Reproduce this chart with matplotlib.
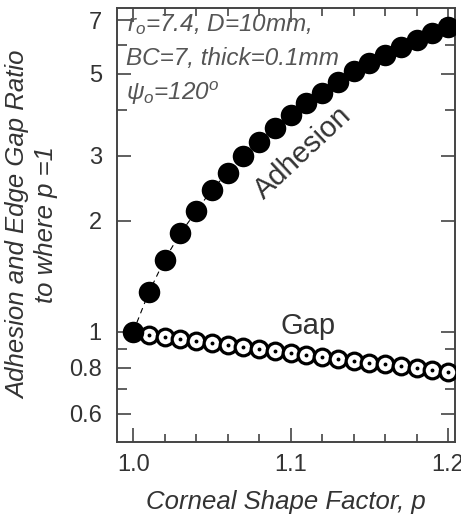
import matplotlib
matplotlib.use("Agg")
import matplotlib.pyplot as plt
from matplotlib.ticker import FixedLocator, NullFormatter

plt.rcParams['font.family'] = ['Liberation Sans', 'DejaVu Sans']
plt.rcParams['mathtext.fontset'] = 'custom'
plt.rcParams['mathtext.it'] = 'Liberation Sans:italic'
plt.rcParams['mathtext.rm'] = 'Liberation Sans:italic'
plt.rcParams['mathtext.default'] = 'it'

p = [1.00, 1.01, 1.02, 1.03, 1.04, 1.05, 1.06, 1.07, 1.08, 1.09, 1.10,
     1.11, 1.12, 1.13, 1.14, 1.15, 1.16, 1.17, 1.18, 1.19, 1.20]
adhesion = [1.00, 1.28, 1.57, 1.85, 2.12, 2.43, 2.70, 3.00, 3.28, 3.57, 3.87,
            4.17, 4.45, 4.77, 5.08, 5.35, 5.63, 5.93, 6.19, 6.45, 6.70]
gap = [1.00, 0.981, 0.967, 0.955, 0.944, 0.932, 0.921, 0.911, 0.898, 0.886, 0.875,
       0.866, 0.857, 0.845, 0.835, 0.824, 0.816, 0.807, 0.797, 0.789, 0.778]

y_major = [0.6, 0.8, 1, 2, 3, 5, 7]
y_major_labels = ['0.6', '0.8', '1', '2', '3', '5', '7']
y_minor = [0.7, 0.9, 4, 6]
x_major = [1.0, 1.1, 1.2]
x_minor = [1.02, 1.04, 1.06, 1.08, 1.12, 1.14, 1.16, 1.18]

txt = '#333333'
note = '#555555'

fig = plt.figure(figsize=(4.61, 5.29), dpi=100)
ax = fig.add_axes([0.254, 0.1645, 0.733, 0.8205])

ax.plot(p, gap, ls='--', color='black', lw=0.8, zorder=2)
ax.plot(p[1:], gap[1:], 'o', ms=12.0, mfc='white', mec='black', mew=2.3, zorder=3)
ax.plot(p[1:], gap[1:], 'o', ms=1.8, color='black', zorder=4)
ax.plot(p, adhesion, ls='--', color='black', lw=0.8, dashes=(5, 4), zorder=2)
ax.plot(p, adhesion, 'o', ms=15.5, color='black', mew=0, zorder=5)

ax.set_yscale('log')
ax.set_xlim(0.9898, 1.2044)
ax.set_ylim(0.503, 7.55)

ax.set_yticks(y_major)
ax.set_yticklabels(y_major_labels)
ax.yaxis.set_minor_locator(FixedLocator(y_minor))
ax.yaxis.set_minor_formatter(NullFormatter())
ax.set_xticks(x_major)
ax.set_xticklabels(['1.0', '1.1', '1.2'])
ax.set_xticks(x_minor, minor=True)

ax.tick_params(which='both', direction='in', top=True, right=True,
               color='#444444', labelcolor=txt, labelsize=17)
ax.tick_params(axis='x', which='major', length=10, width=1.2, pad=9)
ax.tick_params(axis='x', which='minor', length=6, width=1.2)
ax.tick_params(axis='y', which='major', length=10, width=1.2, pad=11)
ax.tick_params(axis='y', which='minor', length=7, width=1.2)
for s in ax.spines.values():
    s.set_color('#444444')
    s.set_linewidth(1.4)

ax.set_xlabel('Corneal Shape Factor, p', fontsize=18.5, style='italic',
              color=txt, labelpad=10)
ax.set_ylabel('Adhesion and Edge Gap Ratio\nto where p =1', fontsize=18.5,
              style='italic', color=txt, labelpad=8, linespacing=1.2)

ax.text(0.03, 0.99, '$r_o$=7.4, D=10mm,', transform=ax.transAxes,
        fontsize=17.5, style='italic', color=note, va='top', ha='left')
ax.text(0.025, 0.91, 'BC=7, thick=0.1mm', transform=ax.transAxes,
        fontsize=17.5, style='italic', color=note, va='top', ha='left')
ax.text(0.025, 0.835, r'$\psi_o$=120$^o$', transform=ax.transAxes,
        fontsize=17.5, style='italic', color=note, va='top', ha='left')

ax.text(1.108, 3.05, 'Adhesion', fontsize=21, color=txt, rotation=43,
        ha='center', va='center')
ax.text(1.111, 1.035, 'Gap', fontsize=21, color=txt, ha='center', va='center')

fig.savefig('out.png', dpi=100)
